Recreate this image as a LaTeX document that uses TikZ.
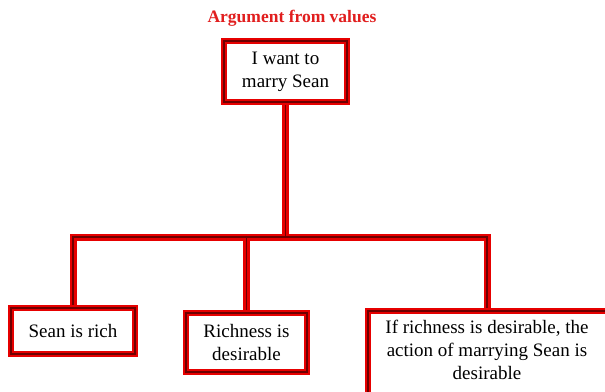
\documentclass[tikz,border=0pt]{standalone}
\usepackage{fontspec}
\setmainfont{Liberation Serif}
\definecolor{linered}{RGB}{230,0,0}
\definecolor{linedark}{RGB}{110,0,0}
\definecolor{titlered}{RGB}{225,30,30}
\tikzset{
  box/.style={draw=linered, line width=6pt, fill=white, rectangle, outer sep=0pt,
    inner sep=0pt, align=center, font=\fontsize{19}{23}\selectfont},
  darkedge/.style={draw=linedark, line width=1.6pt},
  redline/.style={draw=linered, line width=7pt},
  darkline/.style={draw=linedark, line width=1.8pt},
  plaintext/.style={align=center, inner sep=0pt, font=\fontsize{19}{23}\selectfont},
  titletext/.style={text=titlered, font=\fontsize{17.5}{21}\selectfont\bfseries}
}
\begin{document}
\begin{tikzpicture}[x=1pt,y=-1pt]
\useasboundingbox (0,0) rectangle (605,391);
\clip (0,0) rectangle (605,391);
\fill[white] (0,0) rectangle (605,391);
\node[titletext] (title) at (292,18) {Argument from values};
% boxes
\node[box, minimum width=123pt, minimum height=61pt] (top) at (285.5,71.5) {I want to\\marry Sean};
\node[box, minimum width=124pt, minimum height=46pt] (b1) at (73,331) {Sean is rich};
\node[box, minimum width=121pt, minimum height=59pt] (b2) at (246.5,342.5) {Richness is\\desirable};
\node[box, anchor=north west, minimum width=260pt, minimum height=100pt] (b3) at (368,311) {};
\coordinate (j) at (top.south |- 0,237);
\coordinate (k3) at (487,237);
\coordinate (e3) at (487,311);
% connectors: red pass
\draw[redline] (top.south) -- (j);
\draw[redline, line join=miter] (b1.north) -- (b1.north |- j) -- (k3) -- (e3);
\draw[redline] (b2.north |- j) -- (b2.north);
% connectors: dark pass
\draw[darkline] (top.south) -- (j);
\draw[darkline, line join=miter] (b1.north) -- (b1.north |- j) -- (k3) -- (e3);
\draw[darkline] (b2.north |- j) -- (b2.north);
% boxes redrawn on top of the connector ends
\node[box, minimum width=123pt, minimum height=61pt] (topr) at (top) {I want to\\marry Sean};
\node[box, minimum width=124pt, minimum height=46pt] (b1r) at (b1) {Sean is rich};
\node[box, minimum width=121pt, minimum height=59pt] (b2r) at (b2) {Richness is\\desirable};
\node[box, anchor=north west, minimum width=260pt, minimum height=100pt] (b3r) at (368,311) {};
\draw[darkedge] (topr.north west) rectangle (topr.south east);
\draw[darkedge] (b1r.north west) rectangle (b1r.south east);
\draw[darkedge] (b2r.north west) rectangle (b2r.south east);
\draw[darkedge] (b3r.north west) rectangle (b3r.south east);
\node[plaintext, anchor=north] (b3t) at (487,320) {If richness is desirable, the\\action of marrying Sean is\\desirable};
\end{tikzpicture}
\end{document}
